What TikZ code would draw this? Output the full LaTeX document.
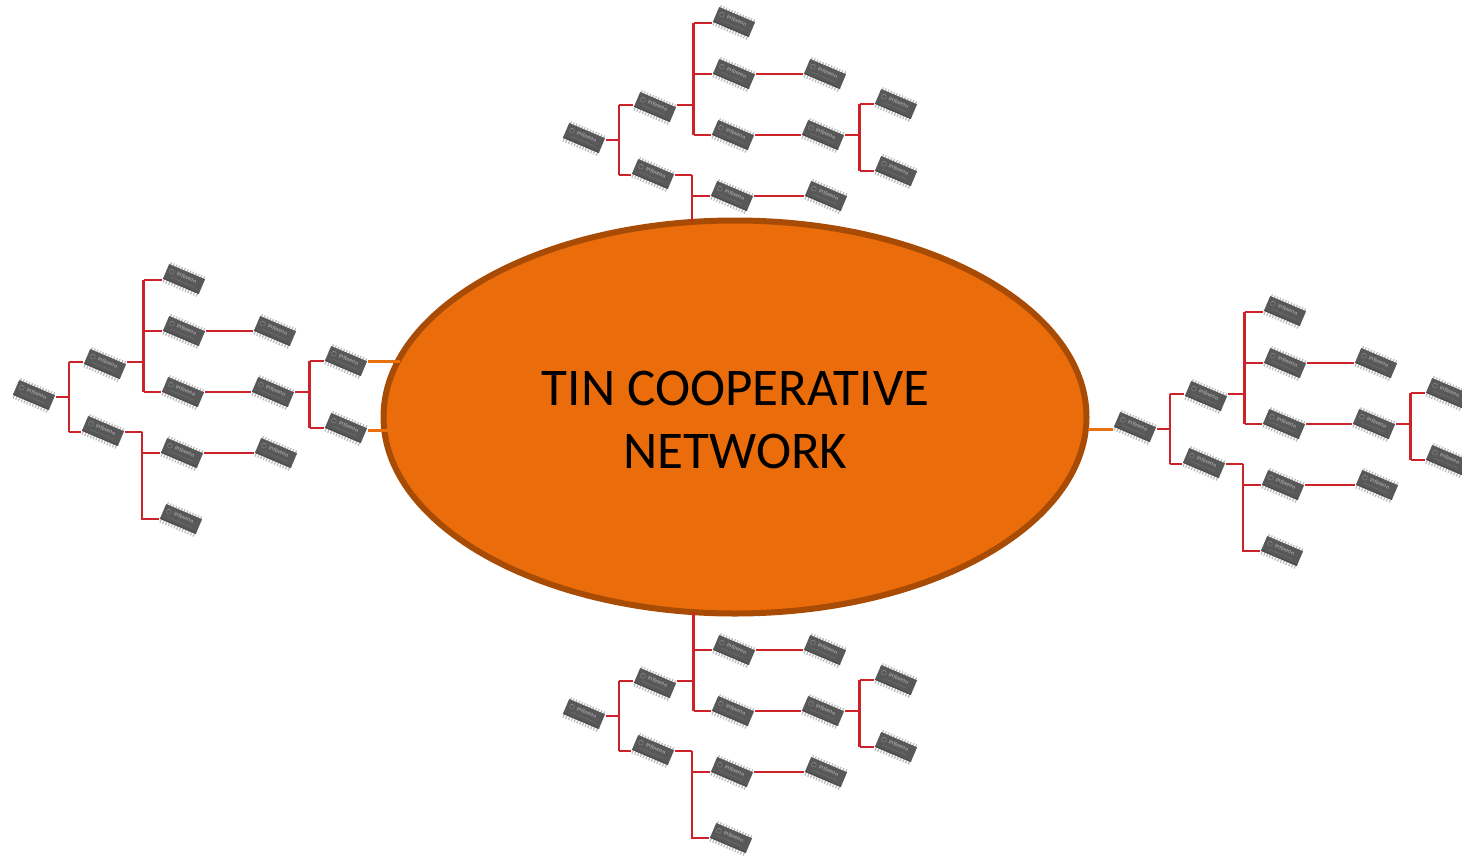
\documentclass[tikz,border=0pt]{standalone}
\usepackage{fontspec}
\setmainfont{Carlito}
\usetikzlibrary{shapes.geometric}
\definecolor{hubfill}{HTML}{EB6C0A}
\definecolor{hubedge}{HTML}{A84B04}
\definecolor{wirered}{HTML}{CC2229}
\definecolor{wireorange}{HTML}{E8700F}
\definecolor{icbody}{HTML}{585858}
\definecolor{icpin}{HTML}{BDBDBD}
\tikzset{
  x=1pt,y=-1pt,
  hub/.style={ellipse,draw=hubedge,fill=hubfill,line width=6pt,minimum width=703pt,minimum height=393pt,inner sep=0pt,outer sep=0pt},
  title/.style={align=center,inner sep=0pt,font=\fontsize{53}{63}\selectfont},
  port/.style={rectangle,minimum width=44pt,minimum height=2pt,inner sep=0pt,outer sep=0pt},
  wire/.style={draw=wirered,line width=2.2pt},
  feed/.style={draw=wireorange,line width=3pt},
  pics/ic/.style={code={
    \begin{scope}[rotate=-23]
      \foreach \i in {0,...,12}{
        \draw[icpin,line width=1.3pt] (-18+\i*3,-7.5) -- (-18+\i*3,-10.5);
        \draw[icpin,line width=1.3pt] (-18+\i*3,7.5) -- (-18+\i*3,11.5);
      }
      \fill[icbody] (-19.5,-8) rectangle (19.5,8);
      \fill[black!70] (-19.5,6.8) rectangle (19.5,8);
      \draw[white!50!black,line width=.6pt] (-14,-2) circle (2.4);
      \node[transform shape,text=white!62!black,inner sep=0pt,font=\fontsize{6}{6}\selectfont\bfseries] at (2,-2.5) {Infineon};
      \draw[white!42!black,line width=.7pt] (-13,3.4) -- (13,3.4);
    \end{scope}
  }}
}
\newcommand{\chipat}[4]{\node[port] (#1) at (#2,#3) {}; \pic at (#2,#3+#4) {ic};}
% the part that all four trees share
\newcommand{\treecore}{
  \chipat{A}{584}{140}{-2}
  \chipat{B}{655}{105}{2}
  \chipat{C}{653}{175}{-1}
  \chipat{E}{734}{74}{0}
  \chipat{F}{825}{74}{0}
  \chipat{G}{733}{135}{0}
  \chipat{H}{823}{135}{0}
  \chipat{I}{896}{104}{0}
  \chipat{J}{896}{171}{0}
  \chipat{K}{732}{196}{0}
  \chipat{L}{826}{196}{0}
  \coordinate (ja) at (619,140);
  \coordinate (jb) at (693.5,105);
  \coordinate (jc) at (692,175);
  \coordinate (jh) at (859.5,135);
  \draw[wire] (A.east) -- (ja);
  \draw[wire] (ja |- B.west) -- (B.west);
  \draw[wire] (ja |- C.west) -- (C.west);
  \draw[wire] (ja |- B.west) -- (ja |- C.west);
  \draw[wire] (B.east) -- (jb);
  \draw[wire] (jb |- E.west) -- (E.west);
  \draw[wire] (jb |- G.west) -- (G.west);
  \draw[wire] (jb |- E.west) -- (jb |- G.west);
  \draw[wire] (E.east) -- (F.west);
  \draw[wire] (G.east) -- (H.west);
  \draw[wire] (H.east) -- (jh);
  \draw[wire] (jh |- I.west) -- (I.west);
  \draw[wire] (jh |- J.west) -- (J.west);
  \draw[wire] (jh |- I.west) -- (jh |- J.west);
  \draw[wire] (C.east) -- (jc);
  \draw[wire] (jc |- K.west) -- (K.west);
  \draw[wire] (jc) -- (jc |- K.west);
  \draw[wire] (K.east) -- (L.west);
}
\newcommand{\treetop}{
  \chipat{D}{734}{23}{-1}
  \draw[wire] (jb |- D.west) -- (D.west);
  \draw[wire] (jb |- D.west) -- (jb |- E.west);
}
\newcommand{\treeextra}{
  \chipat{M}{731}{262}{0}
  \draw[wire] (jc |- K.west) -- (jc |- M.west) -- (M.west);
}
\begin{document}
\begin{tikzpicture}
\useasboundingbox (0,0) rectangle (1462,855);
\node[hub] (hub) at (735,417) {};
\node[title] (hubtitle) at (735.5,419.5) {TIN COOPERATIVE\\NETWORK};
\coordinate (hubtop) at (692,222);
\coordinate (hubbot) at (693.5,612);
\coordinate (hubleftA) at (400,361);
\coordinate (hubleftB) at (396,430);
\coordinate (hubright) at (1088,429);

% top tree
\begin{scope}[name prefix=t-]
  \treecore
  \treetop
\end{scope}
\draw[wire] (t-jc) -- (hubtop);

% left tree
\begin{scope}[shift={(-550,257)},name prefix=l-]
  \treecore
  \treetop
  \treeextra
\end{scope}
\draw[feed] (l-I.east) -- (hubleftA);
\draw[feed] (l-J.east |- hubleftB) -- (hubleftB);

% right tree
\begin{scope}[shift={(551,289)},name prefix=r-]
  \treecore
  \treetop
  \treeextra
\end{scope}
\draw[feed] (hubright) -- (r-A.west);

% bottom tree
\begin{scope}[shift={(0,576)},name prefix=b-]
  \treecore
  \treeextra
\end{scope}
\draw[wire] (b-jb |- b-E.west) -- (hubbot);
\end{tikzpicture}
\end{document}
